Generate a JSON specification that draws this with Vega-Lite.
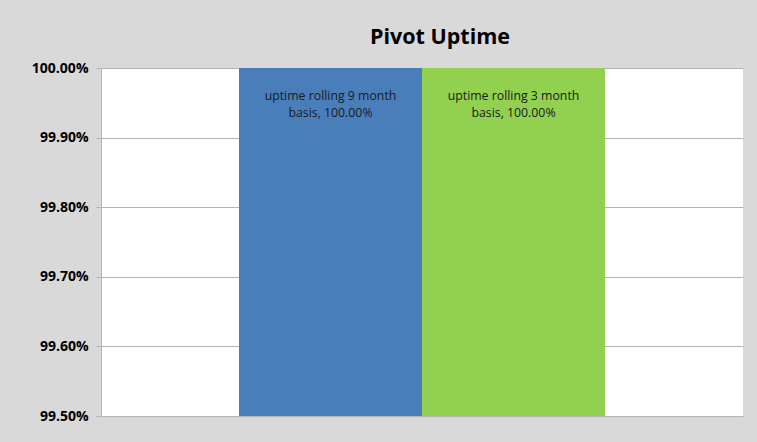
{
  "$schema": "https://vega.github.io/schema/vega-lite/v6.json",
  "width": 642,
  "height": 348,
  "autosize": {"type": "none"},
  "padding": {"left": 101, "top": 68, "right": 14, "bottom": 26},
  "background": "#d9d9d9",
  "title": {
    "text": "Pivot Uptime",
    "font": "Open Sans",
    "fontSize": 21.5,
    "fontWeight": "bold",
    "color": "#000000",
    "anchor": "middle",
    "dx": 18,
    "offset": 13
  },
  "data": {
    "values": [
      {"series": "uptime rolling 9 month", "value": 1.0},
      {"series": "uptime rolling 3 month", "value": 1.0}
    ]
  },
  "transform": [
    {"calculate": "[datum.series, 'basis, ' + format(datum.value, '.2%')]", "as": "label"}
  ],
  "encoding": {
    "x": {
      "field": "series",
      "type": "nominal",
      "sort": null,
      "scale": {"paddingInner": 0, "paddingOuter": 0.754},
      "axis": null
    }
  },
  "layer": [
    {
      "mark": {"type": "bar"},
      "encoding": {
        "y": {
          "field": "value",
          "type": "quantitative",
          "scale": {"domain": [0.995, 1.0], "zero": false},
          "axis": {
            "values": [0.995, 0.996, 0.997, 0.998, 0.999, 1.0],
            "format": ".2%",
            "title": null,
            "grid": true,
            "gridColor": "#b3b3b3",
            "gridWidth": 1,
            "domainColor": "#b3b3b3",
            "tickColor": "#b3b3b3",
            "tickSize": 5,
            "labelPadding": 8,
            "labelFont": "Open Sans",
            "labelFontSize": 14,
            "labelFontWeight": "bold",
            "labelColor": "#000000"
          }
        },
        "y2": {"datum": 0.995},
        "color": {
          "field": "series",
          "type": "nominal",
          "sort": null,
          "scale": {"range": ["#4a7ebb", "#92d050"]},
          "legend": null
        }
      }
    },
    {
      "mark": {
        "type": "text",
        "baseline": "top",
        "align": "center",
        "dy": 22,
        "font": "Open Sans",
        "fontSize": 12.3,
        "lineHeight": 17,
        "color": "#1a1a1a"
      },
      "encoding": {
        "y": {"field": "value", "type": "quantitative"},
        "text": {"field": "label"}
      }
    }
  ],
  "config": {"view": {"stroke": null, "fill": "#ffffff"}}
}
